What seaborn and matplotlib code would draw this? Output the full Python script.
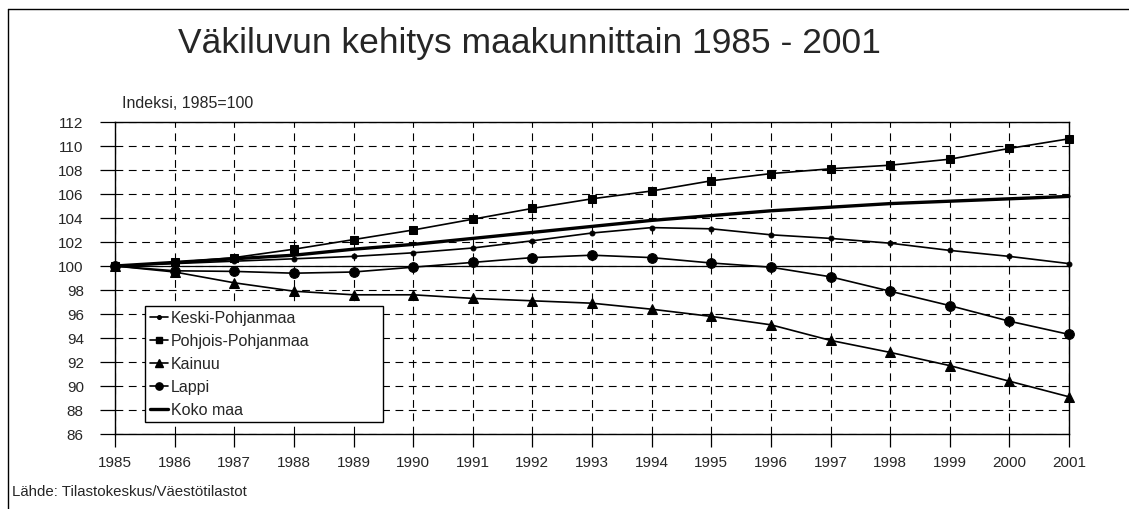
import numpy as np
import pandas as pd
import matplotlib
matplotlib.use("Agg")
import matplotlib.pyplot as plt
from matplotlib.lines import Line2D
from matplotlib.patches import Rectangle
import seaborn as sns

years = list(range(1985, 2002))
keski = [100, 100.2, 100.4, 100.6, 100.8, 101.1, 101.5, 102.1, 102.75, 103.2, 103.1,
         102.6, 102.3, 101.9, 101.3, 100.8, 100.2]
pohjois = [100, 100.3, 100.7, 101.4, 102.2, 103.0, 103.9, 104.8, 105.6, 106.25, 107.1,
           107.7, 108.1, 108.4, 108.9, 109.8, 110.6]
kainuu = [100, 99.5, 98.6, 97.9, 97.6, 97.6, 97.3, 97.1, 96.9, 96.4, 95.8,
          95.1, 93.8, 92.8, 91.7, 90.4, 89.1]
lappi = [100, 99.6, 99.55, 99.4, 99.5, 99.9, 100.3, 100.7, 100.9, 100.7, 100.25,
         99.9, 99.1, 97.9, 96.7, 95.4, 94.3]
koko = [100, 100.3, 100.6, 100.9, 101.4, 101.8, 102.3, 102.8, 103.3, 103.8, 104.2,
        104.6, 104.9, 105.2, 105.4, 105.6, 105.8]

series = [
    ("Keski-Pohjanmaa", keski, "o", 3.5, 1.2),
    ("Pohjois-Pohjanmaa", pohjois, "s", 6, 1.2),
    ("Kainuu", kainuu, "^", 7, 1.2),
    ("Lappi", lappi, "o", 7, 1.2),
    ("Koko maa", koko, None, 0, 2.4),
]

sns.set_style("white")
plt.rcParams["font.family"] = ["Liberation Sans", "DejaVu Sans"]

W, H = 1129, 509
fig = plt.figure(figsize=(W / 100, H / 100), dpi=100)
ax = fig.add_axes([115 / W, 1 - 434 / H, 954 / W, 312 / H])

for name, vals, mk, ms, lw in series:
    df = pd.DataFrame({"Vuosi": years, "Indeksi": vals})
    sns.lineplot(data=df, x="Vuosi", y="Indeksi", ax=ax, color="black", marker=mk,
                 markersize=ms, linewidth=lw, markeredgecolor="black", clip_on=False,
                 zorder=3)

ax.axhline(100, color="black", linewidth=0.9, zorder=1)
ax.set_xlim(1985, 2001)
ax.set_ylim(86, 112)
ax.set_xticks(years)
ax.set_yticks(range(86, 113, 2))
ax.grid(True, color="black", linestyle=(0, (7, 5)), linewidth=0.8)
ax.set_axisbelow(True)
for s in ax.spines.values():
    s.set_color("black")
    s.set_linewidth(1.0)
ax.tick_params(axis="both", direction="out", color="black", labelsize=11,
               bottom=True, left=True, width=0.9)
ax.tick_params(axis="x", length=9.5, pad=6.5)
ax.tick_params(axis="y", length=10.5, pad=12)
ax.set_xlabel("")
ax.set_ylabel("")

# legend with a wide frame as in the original
handles = [Line2D([], [], color="black", marker=mk, markersize=ms * 0.75, linewidth=lw)
           for name, vals, mk, ms, lw in series]
labels = [s[0] for s in series]
ax.add_patch(Rectangle((145, H - 422), 238, 116, transform=None, fill=True,
                       facecolor="white", edgecolor="black", linewidth=1.0, zorder=4))
leg = ax.legend(handles, labels, loc="upper left",
                bbox_to_anchor=(150 / W, 1 - 311 / H), bbox_transform=fig.transFigure,
                frameon=False, fontsize=11.5, handlelength=1.15, handletextpad=0.15,
                labelspacing=0.5, borderaxespad=0, borderpad=0)
leg.set_zorder(5)

fig.text(178 / W, 1 - 44 / H, "Väkiluvun kehitys maakunnittain 1985 - 2001",
         fontsize=25.5, va="center", ha="left")
fig.text(122 / W, 1 - 103 / H, "Indeksi, 1985=100", fontsize=11.5, va="center")
fig.text(12 / W, 1 - 492 / H, "Lähde: Tilastokeskus/Väestötilastot", fontsize=10.8,
         va="center")

# frame of the original picture (top and left edges)
fig.add_artist(Line2D([8 / W, 1], [1 - 9 / H, 1 - 9 / H], transform=fig.transFigure,
                      color="black", linewidth=1.0))
fig.add_artist(Line2D([8 / W, 8 / W], [0, 1 - 9 / H], transform=fig.transFigure,
                      color="black", linewidth=1.0))

fig.savefig("out.png", dpi=100)
